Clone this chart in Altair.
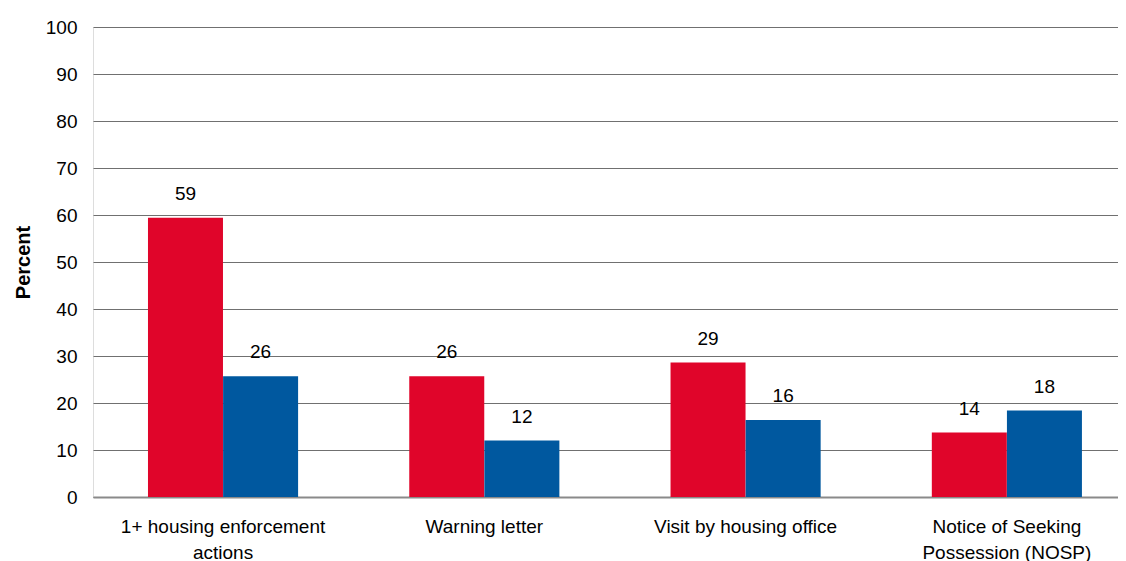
import altair as alt
import pandas as pd

categories = [
    "1+ housing enforcement actions",
    "Warning letter",
    "Visit by housing office",
    "Notice of Seeking Possession (NOSP)",
]
category_lines = [
    ["1+ housing enforcement", "actions"],
    ["Warning letter"],
    ["Visit by housing office"],
    ["Notice of Seeking", "Possession (NOSP)"],
]
series_names = ["Series 1", "Series 2"]
series1 = [59.4, 25.7, 28.6, 13.7]
series2 = [25.7, 12.0, 16.4, 18.4]
colors = ["#E0052A", "#00589F"]
y_ticks = list(range(0, 101, 10))

rows = []
for c, a, b in zip(categories, series1, series2):
    rows.append({"category": c, "series": series_names[0], "value": a})
    rows.append({"category": c, "series": series_names[1], "value": b})
df = pd.DataFrame(rows)

# label expression for multi-line category labels
parts = []
for c, lines in zip(categories, category_lines):
    arr = "[" + ", ".join("'" + l + "'" for l in lines) + "]"
    parts.append(f"datum.value == '{c}' ? {arr} : ")
label_expr = "".join(parts) + "datum.label"

FONT = "Liberation Sans"

x_enc = alt.X(
    "category:N",
    sort=categories,
    scale=alt.Scale(paddingInner=0.425, paddingOuter=0.174, align=0.604),
    axis=alt.Axis(
        title=None,
        labelAngle=0,
        labelExpr=label_expr,
        labelFont=FONT,
        labelFontSize=19,
        labelColor="#000000",
        labelPadding=20,
        labelLineHeight=26,
        labelLimit=0,
        ticks=False,
        tickSize=0,
        domain=True,
        domainColor="#8a8a8a",
        domainWidth=2,
        grid=False,
    ),
)
xoff = alt.XOffset("series:N", sort=series_names, scale=alt.Scale(paddingInner=0, paddingOuter=0))
y_enc = alt.Y(
    "value:Q",
    scale=alt.Scale(domain=[0, 100], nice=False),
    axis=alt.Axis(
        title="Percent",
        titleFont=FONT,
        titleFontSize=20,
        titleFontWeight="bold",
        titleColor="#000000",
        titleAngle=-90,
        titleX=-70,
        titleY=235,
        titleAlign="center",
        titleBaseline="middle",
        values=y_ticks,
        labelFont=FONT,
        labelFontSize=19,
        labelColor="#000000",
        labelPadding=16,
        ticks=False,
        tickSize=0,
        domain=False,
        grid=True,
        gridColor="#707070",
        gridWidth=1,
    ),
)

bars = alt.Chart(df).mark_bar(size=75).encode(
    x=x_enc,
    xOffset=xoff,
    y=y_enc,
    color=alt.Color("series:N", sort=series_names,
                    scale=alt.Scale(domain=series_names, range=colors), legend=None),
)

text = alt.Chart(df).mark_text(
    font=FONT, fontSize=19, color="#000000", baseline="alphabetic", dy=-18
).encode(
    x=alt.X("category:N", sort=categories),
    xOffset=alt.XOffset("series:N", sort=series_names),
    y=alt.Y("value:Q"),
    text=alt.Text("value:Q", format=".0f"),
)

chart = (
    alt.layer(bars, text)
    .properties(
        width=1025,
        height=470,
        autosize=alt.AutoSizeParams(type="none"),
        padding={"left": 85, "top": 19, "right": 0, "bottom": 70},
    )
    .configure_view(stroke=None)
    .configure(background="white")
)

chart.save("out.html", embed_options={"renderer": "svg", "actions": False})
